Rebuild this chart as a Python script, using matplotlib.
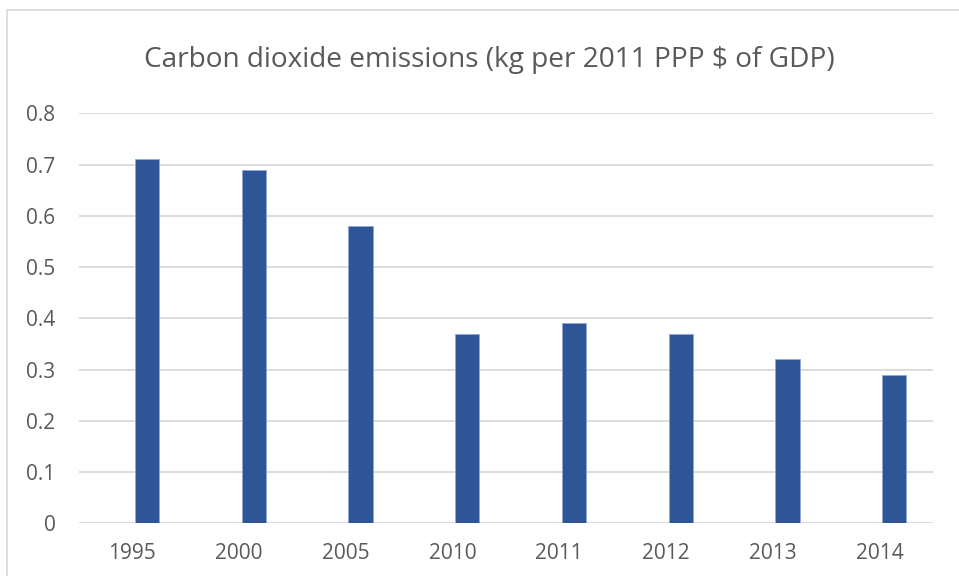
import matplotlib
matplotlib.use("Agg")
import matplotlib.pyplot as plt
from matplotlib.patches import Rectangle
import numpy as np

years = ["1995", "2000", "2005", "2010", "2011", "2012", "2013", "2014"]
values = [0.71, 0.69, 0.58, 0.37, 0.39, 0.37, 0.32, 0.29]
title = "Carbon dioxide emissions (kg per 2011 PPP $ of GDP)"

W, H = 959, 576
fig = plt.figure(figsize=(W / 100, H / 100), dpi=100)
fig.patch.set_facecolor("white")

# outer chart border (cropped at right/bottom)
fig.add_artist(Rectangle((7 / W, -0.1), 1.2, 1 - 10 / H + 0.1, transform=fig.transFigure,
                         fill=False, edgecolor="#D9D9D9", linewidth=1.2))

ax = fig.add_axes([79 / W, 1 - 523.3 / H, (933 - 79) / W, (523.3 - 113.3) / H])
x = np.arange(len(years))
ax.bar(x + 0.137, values, width=0.225, color="#2F5597", edgecolor="#8FA8D8", linewidth=0.6, zorder=3)
ax.set_xlim(-0.5, len(years) - 0.5)
ax.set_ylim(0, 0.8)
ax.set_yticks(np.arange(0, 0.81, 0.1))
ax.set_yticklabels(["0"] + [f"{v:.1f}" for v in np.arange(0.1, 0.81, 0.1)])
ax.set_xticks(x)
ax.set_xticklabels(years)
ax.grid(axis="y", color="#D9D9D9", linewidth=1.3, zorder=0)
for s in ax.spines.values():
    s.set_visible(False)
ax.tick_params(axis="both", length=0, labelsize=15, colors="#595959")
ax.tick_params(axis="y", pad=17)
ax.tick_params(axis="x", pad=14.5)
for lab in ax.get_xticklabels() + ax.get_yticklabels():
    lab.set_family("Open Sans")

fig.text(489 / W, 1 - 60 / H, title, ha="center", va="center", fontsize=20.2,
         color="#595959", family="Open Sans")

fig.savefig("out.png", dpi=100)
